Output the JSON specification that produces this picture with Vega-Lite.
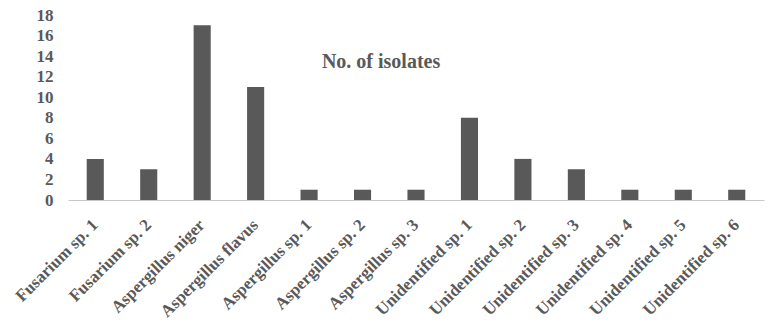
{
  "$schema": "https://vega.github.io/schema/vega-lite/v6.json",
  "width": 696,
  "height": 185,
  "autosize": {"type": "none"},
  "padding": {"left": 68, "top": 15, "right": 4, "bottom": 126},
  "background": "white",
  "title": {
    "text": "No. of isolates",
    "font": "Liberation Serif",
    "fontSize": 20,
    "fontWeight": "bold",
    "color": "#595959",
    "anchor": "start",
    "orient": "top",
    "dx": 310,
    "dy": 70
  },
  "data": {
    "values": [
      {"isolate": "Fusarium sp. 1", "count": 4},
      {"isolate": "Fusarium  sp. 2", "count": 3},
      {"isolate": "Aspergillus niger", "count": 17},
      {"isolate": "Aspergillus flavus", "count": 11},
      {"isolate": "Aspergillus sp. 1", "count": 1},
      {"isolate": "Aspergillus sp. 2", "count": 1},
      {"isolate": "Aspergillus sp. 3", "count": 1},
      {"isolate": "Unidentified sp. 1", "count": 8},
      {"isolate": "Unidentified sp. 2", "count": 4},
      {"isolate": "Unidentified sp. 3", "count": 3},
      {"isolate": "Unidentified sp. 4", "count": 1},
      {"isolate": "Unidentified sp. 5", "count": 1},
      {"isolate": "Unidentified sp. 6", "count": 1}
    ]
  },
  "mark": {"type": "bar", "color": "#595959"},
  "encoding": {
    "x": {
      "field": "isolate",
      "type": "nominal",
      "sort": null,
      "title": null,
      "scale": {"paddingInner": 0.68, "paddingOuter": 0.35},
      "axis": {
        "labelAngle": -45,
        "labelAlign": "right",
        "labelBaseline": "middle",
        "labelFont": "Liberation Serif",
        "labelFontSize": 17,
        "labelFontWeight": "bold",
        "labelColor": "#595959",
        "labelPadding": 22,
        "ticks": false,
        "domainColor": "#c8c8c8",
        "domainWidth": 1
      }
    },
    "y": {
      "field": "count",
      "type": "quantitative",
      "title": null,
      "scale": {"domain": [0, 18], "nice": false},
      "axis": {
        "values": [0, 2, 4, 6, 8, 10, 12, 14, 16, 18],
        "grid": false,
        "domain": false,
        "ticks": false,
        "labelFont": "Liberation Serif",
        "labelFontSize": 17,
        "labelFontWeight": "bold",
        "labelColor": "#595959",
        "labelPadding": 15
      }
    }
  },
  "config": {"view": {"stroke": null}}
}
